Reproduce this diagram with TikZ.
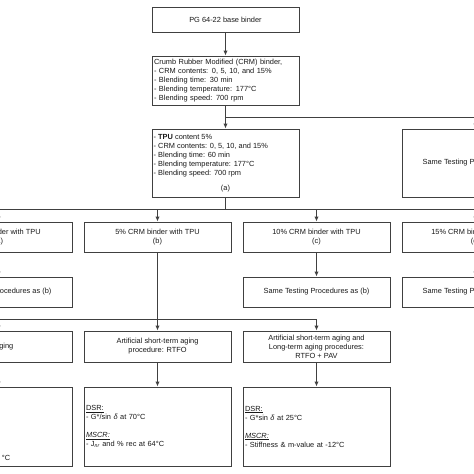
\documentclass[tikz,border=0pt]{standalone}
\usepackage{fontspec}
\setmainfont{Liberation Sans}
\usetikzlibrary{positioning, arrows.meta}
\newcommand{\BoxWidth}{147pt}
\newcommand{\TextWidth}{143pt}

\tikzset{
	box/.style={draw=black!75, line width=1pt, fill=white, minimum width=\BoxWidth, inner sep=2pt, align=center, font=\fontsize{7.4}{9}\selectfont, text=black!90},
	listbox/.style={box, text width=\TextWidth, align=left},
	txt/.style={inner sep=0pt, align=left, font=\fontsize{7.4}{9}\selectfont, text=black!90},
	flow/.style={draw=black!75, line width=1pt, -{Latex[length=5pt,width=4.5pt]}},
	link/.style={draw=black!75, line width=1pt}
}

\begin{document}
\begin{tikzpicture}[x=1pt, y=-1pt]
	% draw frame of the crop
	\fill[white] (0,0) rectangle (474,474);
	\useasboundingbox (0,0) rectangle (474,474);
	\clip (0,0) rectangle (474,474);
	
	% draw top boxes
	\node[box, minimum height=25pt] (base) at (225.5,19.5) {PG 64-22 base binder};
	\node[listbox, minimum height=49pt] (crm) at (225.5,80.5) {Crumb Rubber Modified (CRM) binder,\\- CRM contents: 0, 5, 10, and 15\%\\- Blending time: 30 min\\- Blending temperature: 177°C\\- Blending speed: 700 rpm};
	\node[box, minimum height=68pt] (tpu) at (225.5,163) {};
	\node[txt, anchor=north west] (tputxt) at ([xshift=2pt,yshift=-5.5pt]tpu.north west) {- \textbf{TPU} content 5\%\\- CRM contents: 0, 5, 10, and 15\%\\- Blending time: 60 min\\- Blending temperature: 177°C\\- Blending speed: 700 rpm};
	\node[txt] (tpulbl) at ([yshift=9pt]tpu.south) {(a)};
	\node[box, minimum height=68pt] (same0) at (475.5,163) {Same Testing Procedures as (b)};
	
	% draw binder row
	\node[box, minimum height=30pt] (a0) at (-1.5,237) {0\% CRM binder with TPU\\(a)};
	\node[box, minimum height=30pt] (b) at (157.5,237) {5\% CRM binder with TPU\\(b)};
	\node[box, minimum height=30pt] (c) at (316.5,237) {10\% CRM binder with TPU\\(c)};
	\node[box, minimum height=30pt] (d) at (475.5,237) {15\% CRM binder with TPU\\(d)};
	
	% draw same testing row
	\node[box, minimum height=30pt] (a0same) at (-1.5,292) {Same Testing Procedures as (b)};
	\node[box, minimum height=30pt] (csame) at (316.5,292) {Same Testing Procedures as (b)};
	\node[box, minimum height=30pt] (dsame) at (475.5,292) {Same Testing Procedures as (b)};
	
	% draw aging row
	\node[box, minimum height=31pt] (a0age) at (-1.5,346.5) {No aging};
	\node[box, minimum height=31pt] (bage) at (157.5,346.5) {Artificial short-term aging\\procedure: RTFO};
	\node[box, minimum height=31pt] (cage) at (316.5,346.5) {Artificial short-term aging and\\Long-term aging procedures:\\RTFO + PAV};
	
	% draw testing row
	\node[box, minimum height=79pt] (a0test) at (-1.5,426.5) {};
	\node[txt, anchor=east] (a0testtxt) at (10.5,458) {°C};
	\node[listbox, minimum height=79pt] (btest) at (157.5,426.5) {\underline{DSR:}\\- G*/sin \textit{δ} at 70°C\\[9pt]\underline{\textit{MSCR:}}\\- J\textsubscript{\textit{nr}} and \% rec at 64°C};
	\node[listbox, minimum height=79pt] (ctest) at (316.5,426.5) {\underline{DSR:}\\- G*sin \textit{δ} at 25°C\\[9pt]\underline{\textit{MSCR:}}\\- Stiffness \& m-value at -12°C};
	
	% draw split points
	\coordinate (crmsplit) at (225.5,117);
	\coordinate (tpusplit) at (225.5,209);
	\coordinate (bsplit) at (157.5,319);
	
	% draw connectors
	\draw[flow] (base) -- (crm);
	\draw[flow] (crm) -- (tpu);
	\draw[flow] (crmsplit) -| (same0);
	\draw[link] (tpu) -- (tpusplit);
	\foreach \n in {a0,b,c,d}
	\draw[flow] (tpusplit) -| (\n);
	\foreach \n in {a0,c,d}
	\draw[flow] (\n) -- (\n same);
	\draw[flow] (b) -- (bage);
	\draw[flow] (bsplit) -| (a0age);
	\draw[flow] (bsplit) -| (cage);
	\foreach \n in {a0,b,c}
	\draw[flow] (\n age) -- (\n test);
	
\end{tikzpicture}
\end{document}
